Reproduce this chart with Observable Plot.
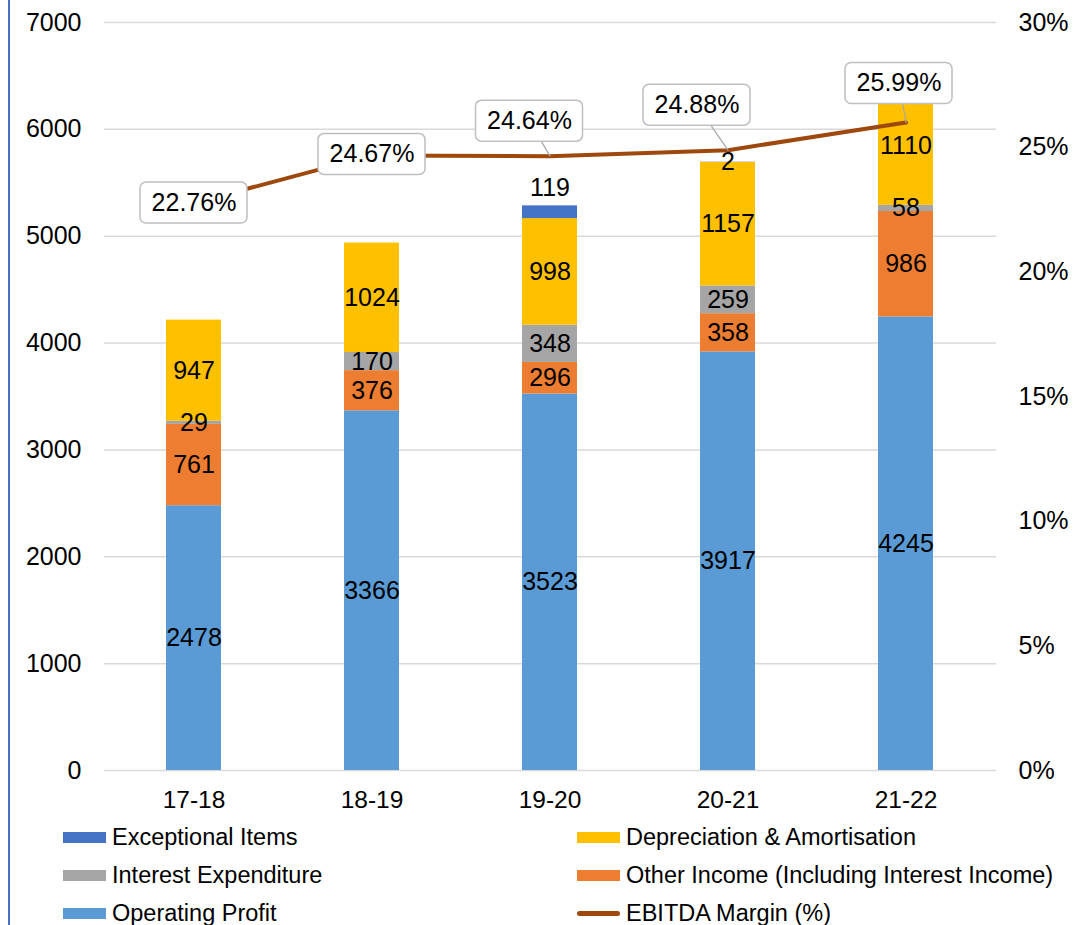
<!DOCTYPE html>
<html>
<head>
<meta charset="utf-8">
<script src="https://cdn.jsdelivr.net/npm/d3@7"></script>
<script src="https://cdn.jsdelivr.net/npm/@observablehq/plot@0.6"></script>
<style>
  body { margin: 0; background: #fff; font-family: "Liberation Sans", Arial, sans-serif; }
  #wrap { position: relative; width: 1078px; height: 925px; overflow: hidden; background: #fff; }
  #edge { position: absolute; left: 8px; top: 0; width: 2px; height: 925px; background: #4472C4; }
  #chart { position: absolute; left: 0; top: 0; }
  #legend { position: absolute; left: 0; top: 818px; width: 1078px; font-size: 23.5px; color: #000; }
  .item { position: absolute; display: flex; align-items: center; height: 38px; white-space: nowrap; }
  .sw { width: 43px; height: 11px; margin-right: 6px; flex: none; }
  .sw.line { height: 5px; border-radius: 3px; }
</style>
</head>
<body>
<div id="wrap">
  <div id="chart"></div>
  <div id="legend"></div>
  <div id="edge"></div>
</div>
<script>
// Financial years on the category axis
const years = ["17-18", "18-19", "19-20", "20-21", "21-22"];

// Stacked components (₹ crore), bottom to top
const operatingProfit = [2478, 3366, 3523, 3917, 4245];
const otherIncome = [761, 376, 296, 358, 986];
const interestExpenditure = [29, 170, 348, 259, 58];
const depreciation = [947, 1024, 998, 1157, 1110];
const exceptionalItems = [0, 0, 119, 2, 0];

// EBITDA margin (%) on the secondary axis
const ebitdaMargin = [22.76, 24.67, 24.64, 24.88, 25.99];

// Axis ticks
const valueTicks = [0, 1000, 2000, 3000, 4000, 5000, 6000, 7000];
const marginTicks = [0, 5, 10, 15, 20, 25, 30];
const valueMax = 7000;
const marginMax = 30;

const seriesNames = [
  "Operating Profit",
  "Other Income (Including Interest Income)",
  "Interest Expenditure",
  "Depreciation & Amortisation",
  "Exceptional Items"
];
const seriesValues = [operatingProfit, otherIncome, interestExpenditure, depreciation, exceptionalItems];
const seriesColors = ["#5B9BD5", "#ED7D31", "#A5A5A5", "#FFC000", "#4472C4"];
const lineColor = "#9E480E";
const marginLabel = "EBITDA Margin (%)";

// Pixel offsets from each margin point to the centre of its callout box
const calloutOffsets = [[0, 0], [0, -1], [-20.5, -35], [-31, -45], [-7, -39]];

const rows = seriesNames.flatMap((series, k) =>
  years.map((year, i) => ({ year, series, value: seriesValues[k][i] }))
);

// Map a percentage onto the primary (left) value scale
const toLeft = p => p * valueMax / marginMax;
const marginRows = years.map((year, i) => ({ year, margin: ebitdaMargin[i], v: toLeft(ebitdaMargin[i]) }));

const fontSize = 25;
const isTopLabel = d => d.series === "Exceptional Items" && d.value >= 50;

// Straight leader line from a point toward its callout
const leader = { draw(context, l) { context.moveTo(0, 0); context.lineTo(0, -l); } };

const marks = [
  Plot.gridY(valueTicks, { stroke: "#d9d9d9", strokeOpacity: 1, strokeWidth: 1.5 }),
  Plot.barY(rows, { x: "year", y: "value", fill: "series" }),
  Plot.text(rows, Plot.stackY({
    x: "year", y: "value", z: "series",
    text: d => (d.value > 0 && !isTopLabel(d)) ? String(d.value) : "",
    fontSize, fill: "#000"
  })),
  Plot.text(rows, Plot.stackY2({
    x: "year", y: "value", z: "series",
    text: d => isTopLabel(d) ? String(d.value) : "",
    fontSize, fill: "#000", dy: -18
  })),
  Plot.line(marginRows, { x: "year", y: "v", stroke: lineColor, strokeWidth: 4, strokeLinecap: "round" }),
  ...marginRows.map((d, i) => {
    const [dx, dy] = calloutOffsets[i];
    const len = Math.hypot(dx, dy);
    if (len < 5) return null;
    return Plot.vector([d], {
      x: "year", y: "v", length: len,
      rotate: Math.atan2(dx, -dy) * 180 / Math.PI,
      anchor: "start", shape: leader,
      stroke: "#a6a6a6", strokeWidth: 1.2
    });
  }),
  ...marginRows.map((d, i) => Plot.barY([d], {
    x: "year", y1: "v", y2: "v",
    insetTop: -20.5, insetBottom: -20.5, insetLeft: -26, insetRight: -26,
    rx: 6, fill: "#fff", stroke: "#bfbfbf", strokeWidth: 1.5,
    dx: calloutOffsets[i][0], dy: calloutOffsets[i][1]
  })),
  ...marginRows.map((d, i) => Plot.text([d], {
    x: "year", y: "v", text: r => r.margin.toFixed(2) + "%",
    fontSize, fill: "#000",
    dx: calloutOffsets[i][0], dy: calloutOffsets[i][1]
  })),
  Plot.axisY(valueTicks, { anchor: "left", tickSize: 0, tickPadding: 23, fontSize, label: null, tickFormat: d => String(d) }),
  Plot.axisY(marginTicks.map(toLeft), {
    anchor: "right", tickSize: 0, tickPadding: 22, fontSize, label: null,
    tickFormat: d => Math.round(d * marginMax / valueMax) + "%"
  }),
  Plot.axisX({ tickSize: 0, tickPadding: 20, fontSize: 24.5, label: null })
].filter(Boolean);

const chart = Plot.plot({
  width: 1078,
  height: 825,
  marginLeft: 104,
  marginRight: 82,
  marginTop: 22,
  marginBottom: 55,
  x: { domain: years, paddingInner: 0.69, paddingOuter: 0.345, align: 0.5 },
  y: { domain: [0, valueMax] },
  color: { domain: seriesNames, range: seriesColors },
  style: { fontFamily: '"Liberation Sans", Arial, sans-serif', color: "#000", background: "#fff", overflow: "visible" },
  marks
});
document.getElementById("chart").appendChild(chart);

// Legend: two columns, three rows
const legendItems = [
  { name: "Exceptional Items", color: seriesColors[4] },
  { name: "Depreciation & Amortisation", color: seriesColors[3] },
  { name: "Interest Expenditure", color: seriesColors[2] },
  { name: "Other Income (Including Interest Income)", color: seriesColors[1] },
  { name: "Operating Profit", color: seriesColors[0] },
  { name: marginLabel, color: lineColor, line: true }
];
const legendCols = [63, 577];
const legend = document.getElementById("legend");
legendItems.forEach((item, i) => {
  const el = document.createElement("div");
  el.className = "item";
  el.style.left = legendCols[i % 2] + "px";
  el.style.top = (Math.floor(i / 2) * 38) + "px";
  const sw = document.createElement("span");
  sw.className = "sw" + (item.line ? " line" : "");
  sw.style.background = item.color;
  const label = document.createElement("span");
  label.textContent = item.name;
  el.appendChild(sw);
  el.appendChild(label);
  legend.appendChild(el);
});
</script>
</body>
</html>
